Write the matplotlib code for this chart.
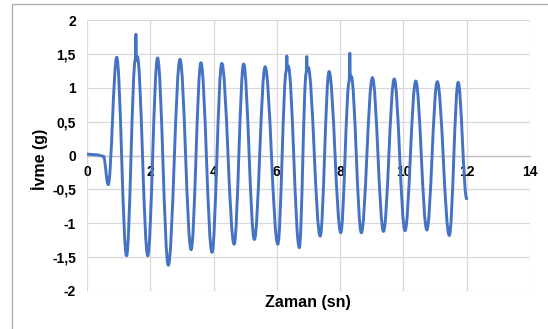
import matplotlib
matplotlib.use("Agg")
import matplotlib.pyplot as plt
from matplotlib.path import Path
from matplotlib.patches import PathPatch, Rectangle

plt.rcParams['font.family'] = ['Liberation Sans', 'DejaVu Sans']
plt.rcParams['font.weight'] = 'bold'

# acceleration record: turning points of the signal (time in s, value in g)
time_s = [0.00, 0.30, 0.52, 0.67, 0.94, 1.25, 1.53, 1.545, 1.56, 1.59,
          1.92, 2.23, 2.57, 2.94, 3.29, 3.60, 3.95, 4.26, 4.65, 4.95,
          5.29, 5.63, 6.03, 6.30, 6.315, 6.33, 6.36, 6.71, 6.93, 6.945,
          6.96, 6.99, 7.37, 7.65, 8.02, 8.29, 8.305, 8.32, 8.35, 8.67,
          9.02, 9.37, 9.71, 10.05, 10.39, 10.74, 11.07, 11.45, 11.73, 12.00]
accel_g = [0.02, 0.01, -0.01, -0.43, 1.45, -1.48, 1.42, 1.79, 1.40, 1.46,
           -1.48, 1.44, -1.62, 1.42, -1.39, 1.37, -1.43, 1.36, -1.31, 1.35,
           -1.24, 1.31, -1.31, 1.25, 1.47, 1.28, 1.32, -1.36, 1.22, 1.46,
           1.26, 1.30, -1.19, 1.24, -1.14, 1.10, 1.51, 1.12, 1.17, -1.14,
           1.15, -1.12, 1.13, -1.11, 1.10, -1.10, 1.09, -1.18, 1.08, -0.64]

x_ticks = [0, 2, 4, 6, 8, 10, 12, 14]
y_ticks = [-2, -1.5, -1, -0.5, 0, 0.5, 1, 1.5, 2]
y_tick_labels = ['-2', '-1,5', '-1', '-0,5', '0', '0,5', '1', '1,5', '2']

fig = plt.figure(figsize=(5.48, 3.29), dpi=100)
ax = fig.add_axes([87 / 548, 1 - 291 / 329, 443 / 548, 271 / 329])

# outer chart frame (runs off the right and bottom edges)
fig.patches.append(Rectangle((12 / 548, -0.5), 2.0, 0.5 + 1 - 3.5 / 329,
                             transform=fig.transFigure, fill=False,
                             edgecolor='#ababab', linewidth=0.9))

# smooth curve through the turning points (cubic bezier, flat at each point)
k = 0.363
verts = [(time_s[0], accel_g[0])]
codes = [Path.MOVETO]
for i in range(1, len(time_s)):
    dt = time_s[i] - time_s[i - 1]
    verts += [(time_s[i - 1] + k * dt, accel_g[i - 1]),
              (time_s[i] - k * dt, accel_g[i]),
              (time_s[i], accel_g[i])]
    codes += [Path.CURVE4] * 3
ax.add_patch(PathPatch(Path(verts, codes), fill=False, edgecolor='#4472c4',
                       linewidth=2.1, capstyle='round', joinstyle='round',
                       zorder=3))

ax.set_xlim(0, 14)
ax.set_ylim(-2, 2)
ax.set_xticks(x_ticks)
ax.set_xticklabels([str(x) for x in x_ticks])
ax.set_yticks(y_ticks)
ax.set_yticklabels(y_tick_labels)
ax.grid(True, color='#d9d9d9', linewidth=0.9, zorder=0)
ax.set_axisbelow(True)

for side in ['top', 'right', 'left']:
    ax.spines[side].set_visible(False)
ax.spines['bottom'].set_position(('data', 0))
ax.spines['bottom'].set_color('#bfbfbf')
ax.spines['bottom'].set_linewidth(0.9)

ax.tick_params(axis='x', length=0, pad=6.5, labelsize=10, colors='black')
ax.tick_params(axis='y', length=0, pad=8, labelsize=10, colors='black')
for lab in ax.get_xticklabels() + ax.get_yticklabels():
    lab.set_fontweight('bold')

fig.text(39 / 548, 1 - 159 / 329, 'İvme (g)', rotation=90, ha='center',
         va='center', fontsize=11.5, fontweight='bold')
fig.text(308 / 548, 1 - 302 / 329, 'Zaman (sn)', ha='center', va='center',
         fontsize=11.5, fontweight='bold')

fig.savefig('out.png', dpi=100)
